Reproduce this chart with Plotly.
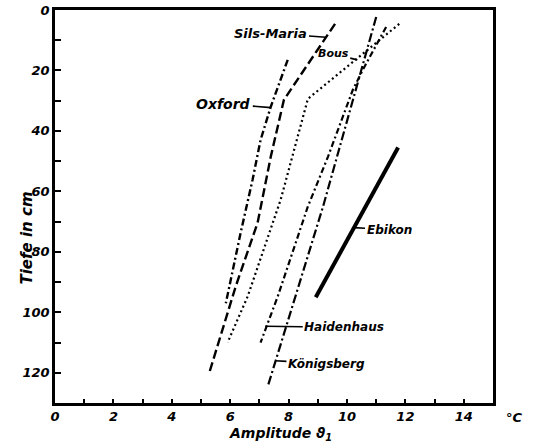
import plotly.graph_objects as go

# ---- data ----
oxford_x = [7.97, 7.39, 7.04, 6.77, 6.36, 5.85]
oxford_y = [16.5, 32, 43, 56, 73.6, 97]

sils_x = [9.59, 7.84, 7.39, 6.94, 6.19, 5.29]
sils_y = [4.6, 29.7, 48.5, 70.3, 91.4, 119.8]

bous_x = [11.79, 8.66, 7.73, 6.6, 5.91]
bous_y = [4.6, 29.4, 62.7, 94.7, 110]

haiden_x = [11.34, 10.58, 10.2, 9.35, 8.66, 7.63, 7.04]
haiden_y = [5.6, 19.1, 26.4, 48.5, 65, 94.7, 110]

koenig_x = [11.0, 9.18, 7.29]
koenig_y = [2.3, 65, 124.4]

ebikon_x = [11.75, 8.93]
ebikon_y = [45.5, 95]

x_ticks = [0, 2, 4, 6, 8, 10, 12, 14]
y_ticks = [0, 20, 40, 60, 80, 100, 120]

FONT = "DejaVu Sans"
fig = go.Figure()

def add(x, y, name, dash, width):
    fig.add_trace(go.Scatter(x=x, y=y, mode="lines", name=name,
                             line=dict(color="black", width=width, dash=dash)))

add(oxford_x, oxford_y, "Oxford", "7px,3px,2px,3px", 2.4)
add(sils_x, sils_y, "Sils-Maria", "9px,4px", 2.4)
add(bous_x, bous_y, "Bous", "2px,3px", 2.2)
add(haiden_x, haiden_y, "Haidenhaus", "6px,3px,2px,3px", 2.2)
add(koenig_x, koenig_y, "Königsberg", "9px,3px,2px,3px", 2.2)
add(ebikon_x, ebikon_y, "Ebikon", "solid", 4)

labels = [
    ("Sils-Maria", 9.28, 9.0, -55, -4, 13),
    ("Bous", 10.35, 16.5, -24, -6, 11),
    ("Oxford", 7.39, 32.3, -47, -4, 14),
    ("Ebikon", 10.24, 72, 35, 2, 12),
    ("Haidenhaus", 7.2, 104.6, 79, 1, 12),
    ("Königsberg", 7.55, 116, 51, 3, 12),
]
for t, x, y, ax, ay, sz in labels:
    fig.add_annotation(x=x, y=y, text=t, showarrow=True, arrowhead=0,
                       arrowwidth=1.6, arrowcolor="black", ax=ax, ay=ay,
                       font=dict(family=FONT, size=sz, color="black",
                                 weight="bold", style="italic"))

tick_font = dict(family=FONT, size=13, color="black", weight="bold", style="italic")

fig.update_xaxes(range=[0, 15], tickvals=x_ticks, ticks="inside", ticklen=4,
                 tickwidth=2, tickcolor="black", showgrid=False, zeroline=False,
                 showline=True, linecolor="black", linewidth=2.5, mirror=True,
                 tickfont=tick_font, automargin=False,
                 minor=dict(dtick=1, tick0=0, ticks="inside", ticklen=4,
                            tickwidth=2, tickcolor="black", showgrid=False))
fig.update_yaxes(range=[130, 0], tickvals=y_ticks, ticks="inside", ticklen=6,
                 tickwidth=2, tickcolor="black", showgrid=False, zeroline=False,
                 showline=True, linecolor="black", linewidth=2.5, mirror=True,
                 tickfont=tick_font, automargin=False,
                 minor=dict(dtick=10, tick0=0, ticks="inside", ticklen=6,
                            tickwidth=2, tickcolor="black", showgrid=False))

fig.add_annotation(text="Tiefe in cm", xref="paper", yref="paper", x=-0.09, y=0.42,
                   textangle=-90, showarrow=False, font=dict(family=FONT, size=15, color="black",
                                                              weight="bold", style="italic"))
fig.add_annotation(text="Amplitude ϑ<sub>1</sub>", xref="paper", yref="paper", x=0.515, y=-0.05,
                   yanchor="top", showarrow=False,
                   font=dict(family=FONT, size=14, color="black", weight="bold", style="italic"))
fig.add_annotation(text="°C", xref="paper", yref="paper", x=1.025, y=-0.012,
                   xanchor="left", yanchor="top", showarrow=False, font=tick_font)

fig.update_layout(width=547, height=447, showlegend=False,
                  margin=dict(l=55, r=54, t=10, b=44, autoexpand=False),
                  plot_bgcolor="white", paper_bgcolor="white")
fig.write_html("out.html", config={"displayModeBar": False},
               post_script="document.body.style.margin='0';document.body.style.overflow='hidden';")
